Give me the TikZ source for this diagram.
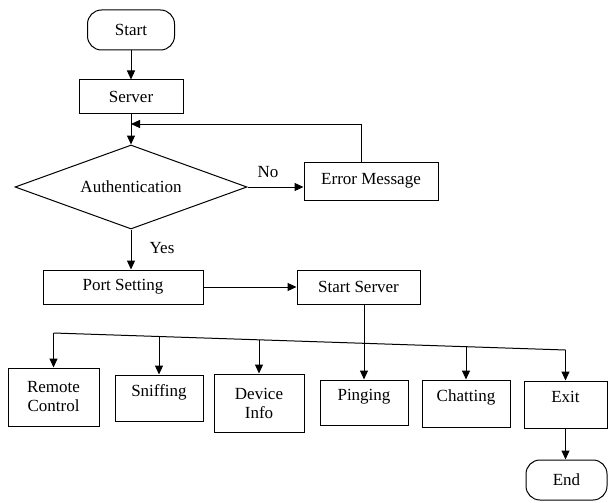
\documentclass[tikz,border=0pt]{standalone}
\usepackage{fontspec}
\setmainfont{Liberation Serif}
\newfontfamily\chartfont{Liberation Serif}
\usetikzlibrary{shapes.geometric, arrows.meta, positioning, calc}

\begin{document}
\begin{tikzpicture}[x=1pt, y=-1pt,
            font=\chartfont\fontsize{17}{19}\selectfont,
            line width=1pt, >={Triangle[length=9pt, width=8pt]},
            terminal/.style={rectangle, rounded corners=14pt, draw, minimum height=40pt},
            process/.style={rectangle, draw, align=center, inner sep=2pt},
            raised/.style={text depth=15pt},
            decision/.style={diamond, draw, aspect=2.76, inner sep=0pt, minimum width=232pt, minimum height=84pt}
        ]
            \useasboundingbox (0,0) rectangle (608,503);

            \node[terminal, minimum width=87pt] (start) at (131,30) {Start};
            \node[process, minimum width=104pt, minimum height=33pt] (server) at (131,96.5) {Server};
            \node[decision] (auth) at (131,187) {Authentication};
            \node[process, minimum width=134pt, minimum height=38pt] (err) at (371,181) {Error Message};
            \node[process, minimum width=160pt, minimum height=34pt] (port) at (123,287) {Port Setting};
            \node[process, minimum width=123pt, minimum height=34pt] (srv) at (358.5,287) {Start Server};

            \node[process, minimum width=91pt, minimum height=58pt] (remote) at (53.5,397) {Remote\\Control};
            \node[process, raised, minimum width=88pt, minimum height=46pt] (sniff) at (159,398) {Sniffing};
            \node[process, minimum width=90pt, minimum height=58pt] (dev) at (259,403) {Device\\Info};
            \node[process, raised, minimum width=88pt, minimum height=45pt] (ping) at (364,402.5) {Pinging};
            \node[process, raised, minimum width=88pt, minimum height=47pt] (chat) at (466,403.5) {Chatting};
            \node[process, raised, minimum width=83pt, minimum height=47pt] (exit) at (565.5,404.5) {Exit};
            \node[terminal, minimum width=81pt] (end) at (566.5,480) {End};

            \node (no) at (268,172) {No};
            \node (yes) at (162,248) {Yes};

            \coordinate (merge) at (131,124);
            \coordinate (busL) at (53.5,333);
            \coordinate (busR) at (565.5,350);

            \draw[->] (start) -- (server);
            \draw[->] (server) -- (auth);
            \draw[->] (auth.east) -- (auth.east -| err.west);
            \draw[->] ([xshift=-10pt]err.north) |- (merge);
            \draw[->] (auth.south) -- (auth.south |- port.north);
            \draw[->] (port) -- (srv);
            \draw[->] (ping.north |- srv.south) -- (ping.north);

            \draw (busL) -- (busR);
            \draw[->] (busL) -- (remote.north);
            \draw[->] (busR) -- (exit.north);
            \foreach \n in {sniff, dev, chat}
                \draw[->] (\n.north |- {$(busL)!(\n.north)!(busR)$}) -- (\n.north);

            \draw[->] (exit.south) -- (exit.south |- end.north);
        \end{tikzpicture}
\end{document}
